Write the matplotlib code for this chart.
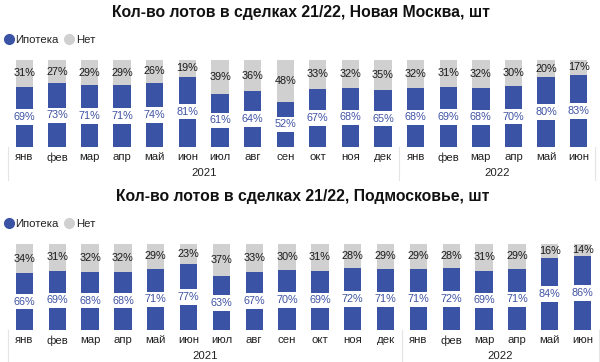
import matplotlib
matplotlib.use("Agg")
import matplotlib.pyplot as plt
from matplotlib.lines import Line2D
import numpy as np

plt.rcParams['font.family'] = ['Liberation Sans', 'DejaVu Sans']

months = ["янв", "фев", "мар", "апр", "май", "июн", "июл", "авг", "сен", "окт", "ноя", "дек",
          "янв", "фев", "мар", "апр", "май", "июн"]
years = ["2021", "2022"]
year_counts = [12, 6]

nm_mortgage = [69, 73, 71, 71, 74, 81, 61, 64, 52, 67, 68, 65, 68, 69, 68, 70, 80, 83]
nm_other = [31, 27, 29, 29, 26, 19, 39, 36, 48, 33, 32, 35, 32, 31, 32, 30, 20, 17]
pm_mortgage = [66, 69, 68, 68, 71, 77, 63, 67, 70, 69, 72, 71, 71, 72, 69, 71, 84, 86]
pm_other = [34, 31, 32, 32, 29, 23, 37, 33, 30, 31, 28, 29, 29, 28, 31, 29, 16, 14]

titles = ["Кол-во лотов в сделках 21/22, Новая Москва, шт",
          "Кол-во лотов в сделках 21/22, Подмосковье, шт"]
series_names = ["Ипотека", "Нет"]

BLUE = "#3A53A4"
BLUE_TXT = "#3F52A3"
GRAY = "#D0D0D0"
SEP = "#E4E4E4"

W, H = 600, 362
fig = plt.figure(figsize=(W / 100, H / 100), dpi=100)


def px_ax(left, top, right, bottom):
    return fig.add_axes([left / W, 1 - bottom / H, (right - left) / W, (bottom - top) / H])


panels = [
    dict(ax=(8, 60, 595, 147), title_y=12, title_x=301, leg_y=40,
         m=nm_mortgage, o=nm_other, title=titles[0]),
    dict(ax=(8, 244, 599, 330), title_y=197, title_x=303, leg_y=224,
         m=pm_mortgage, o=pm_other, title=titles[1]),
]

for p in panels:
    ax = px_ax(*p["ax"])
    x = np.arange(len(months))
    m = np.array(p["m"]) / 100.0
    o = np.array(p["o"]) / 100.0
    ax.bar(x, m, width=0.53, color=BLUE, zorder=2)
    ax.bar(x, o, bottom=m, width=0.53, color=GRAY, zorder=2)
    ax.set_xlim(-0.5, len(months) - 0.5)
    ax.set_ylim(0, 1)
    for s in ax.spines.values():
        s.set_visible(False)
    ax.set_xticks([])
    ax.set_yticks([])
    for i in range(len(months)):
        ax.text(x[i], m[i] / 2, f"{p['m'][i]}%", ha="center", va="center",
                fontsize=7.8, color=BLUE_TXT, zorder=3,
                bbox=dict(boxstyle="square,pad=0.25", fc="white", ec="none"))
        ax.text(x[i], m[i] + o[i] / 2, f"{p['o'][i]}%", ha="center", va="center",
                fontsize=7.8, color="#1a1a1a", zorder=3)
        ax.annotate(months[i], xy=(x[i], 0), xycoords=("data", "axes fraction"),
                    xytext=(0, -7.5), textcoords="offset points",
                    ha="center", va="center", fontsize=8.2, color="#222222")
    start = 0
    bounds = [-0.5]
    for yl, c in zip(years, year_counts):
        ax.annotate(yl, xy=((start + start + c - 1) / 2, 0), xycoords=("data", "axes fraction"),
                    xytext=(0, -18.5), textcoords="offset points",
                    ha="center", va="center", fontsize=8.2, color="#222222")
        start += c
        bounds.append(start - 0.5)
    ax_h = p["ax"][3] - p["ax"][1]
    for b in bounds:
        ax.plot([b, b], [0, -33 / ax_h], transform=ax.get_xaxis_transform(),
                color=SEP, lw=0.8, clip_on=False)
    fig.text(p["title_x"] / W, 1 - p["title_y"] / H, p["title"], ha="center", va="center",
             fontsize=11.3, fontweight="bold", color="#111111")
    handles = [Line2D([], [], marker="o", ls="", color=BLUE, markersize=7),
               Line2D([], [], marker="o", ls="", color=GRAY, markersize=7)]
    fig.legend(handles, series_names, loc="center left",
               bbox_to_anchor=(5 / W, 1 - p["leg_y"] / H), ncol=2, frameon=False,
               fontsize=8.2, handlelength=0.7, handletextpad=0.2, columnspacing=0.6,
               borderpad=0, borderaxespad=0, labelcolor="#222222")

fig.savefig("out.png", dpi=100)
